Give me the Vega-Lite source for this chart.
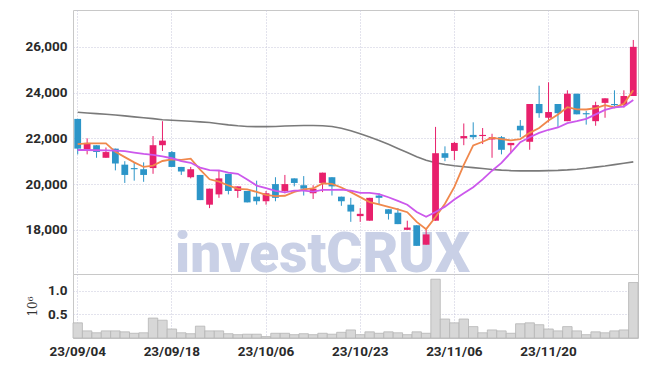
{
  "$schema": "https://vega.github.io/schema/vega-lite/v6.json",
  "padding": {"left": 24, "top": 9, "right": 0, "bottom": 0},
  "background": "white",
  "spacing": 0,
  "bounds": "flush",
  "config": {
    "view": {"stroke": "#c8c8c8"},
    "axis": {"labelFont": "Roboto", "labelFontSize": 13.5, "labelFontWeight": "bold", "labelColor": "#2a2a2a", "gridColor": "#c6c6da", "gridDash": [1, 2], "ticks": false, "domain": false, "labelPadding": 6}
  },
  "data": {"values": [
    {"d":"23/09/04","o":22850,"h":22850,"l":21300,"c":21550,"v":0.32,"ma5":21750,"ma10":21490,"ma60":23140},
    {"d":"23/09/05","o":21500,"h":22000,"l":21300,"c":21800,"v":0.15,"ma5":21780,"ma10":21490,"ma60":23110},
    {"d":"23/09/06","o":21700,"h":21700,"l":21150,"c":21400,"v":0.11,"ma5":21780,"ma10":21480,"ma60":23080},
    {"d":"23/09/07","o":21150,"h":21600,"l":21150,"c":21400,"v":0.15,"ma5":21780,"ma10":21470,"ma60":23050},
    {"d":"23/09/08","o":21550,"h":21550,"l":20600,"c":20900,"v":0.15,"ma5":21410,"ma10":21460,"ma60":23020},
    {"d":"23/09/11","o":20850,"h":21000,"l":20050,"c":20400,"v":0.13,"ma5":21180,"ma10":21440,"ma60":22980},
    {"d":"23/09/12","o":20700,"h":20950,"l":20150,"c":20650,"v":0.10,"ma5":20950,"ma10":21380,"ma60":22940},
    {"d":"23/09/13","o":20650,"h":20950,"l":20100,"c":20400,"v":0.11,"ma5":20750,"ma10":21320,"ma60":22900},
    {"d":"23/09/14","o":20700,"h":22100,"l":20450,"c":21700,"v":0.42,"ma5":20810,"ma10":21280,"ma60":22860},
    {"d":"23/09/15","o":21700,"h":22750,"l":21450,"c":21900,"v":0.375,"ma5":21010,"ma10":21210,"ma60":22810},
    {"d":"23/09/18","o":21400,"h":21450,"l":20750,"c":20750,"v":0.19,"ma5":21080,"ma10":21130,"ma60":22790},
    {"d":"23/09/19","o":20750,"h":20750,"l":20400,"c":20550,"v":0.11,"ma5":21060,"ma10":21005,"ma60":22770},
    {"d":"23/09/20","o":20300,"h":20750,"l":20250,"c":20650,"v":0.09,"ma5":21110,"ma10":20930,"ma60":22750},
    {"d":"23/09/21","o":20400,"h":20400,"l":19300,"c":19300,"v":0.25,"ma5":20630,"ma10":20720,"ma60":22720},
    {"d":"23/09/22","o":19100,"h":19800,"l":18950,"c":19800,"v":0.15,"ma5":20210,"ma10":20610,"ma60":22690},
    {"d":"23/09/25","o":19550,"h":20600,"l":19400,"c":20250,"v":0.15,"ma5":20110,"ma10":20595,"ma60":22640},
    {"d":"23/09/26","o":20450,"h":20450,"l":19550,"c":19700,"v":0.09,"ma5":19940,"ma10":20500,"ma60":22590},
    {"d":"23/09/27","o":19700,"h":19900,"l":19400,"c":19900,"v":0.07,"ma5":19790,"ma10":20450,"ma60":22550},
    {"d":"23/10/04","o":19700,"h":19700,"l":19200,"c":19200,"v":0.08,"ma5":19770,"ma10":20200,"ma60":22520},
    {"d":"23/10/05","o":19450,"h":20150,"l":19100,"c":19250,"v":0.08,"ma5":19660,"ma10":19935,"ma60":22510},
    {"d":"23/10/06","o":19250,"h":19700,"l":19100,"c":19600,"v":0.03,"ma5":19530,"ma10":19820,"ma60":22510},
    {"d":"23/10/10","o":20000,"h":20300,"l":19250,"c":19400,"v":0.10,"ma5":19470,"ma10":19705,"ma60":22520},
    {"d":"23/10/11","o":19700,"h":20400,"l":19600,"c":20000,"v":0.10,"ma5":19490,"ma10":19640,"ma60":22540},
    {"d":"23/10/12","o":20250,"h":20250,"l":19900,"c":20050,"v":0.07,"ma5":19660,"ma10":19715,"ma60":22550},
    {"d":"23/10/13","o":19950,"h":20350,"l":19500,"c":19800,"v":0.09,"ma5":19770,"ma10":19715,"ma60":22560},
    {"d":"23/10/16","o":19600,"h":19950,"l":19350,"c":19800,"v":0.07,"ma5":19810,"ma10":19670,"ma60":22560},
    {"d":"23/10/17","o":20050,"h":20500,"l":19650,"c":20500,"v":0.10,"ma5":20030,"ma10":19750,"ma60":22550},
    {"d":"23/10/18","o":20300,"h":20300,"l":19500,"c":19900,"v":0.08,"ma5":20010,"ma10":19750,"ma60":22520},
    {"d":"23/10/19","o":19450,"h":19450,"l":19050,"c":19250,"v":0.12,"ma5":19850,"ma10":19755,"ma60":22440},
    {"d":"23/10/20","o":19100,"h":19400,"l":18350,"c":18800,"v":0.17,"ma5":19650,"ma10":19710,"ma60":22330},
    {"d":"23/10/23","o":18600,"h":18950,"l":18350,"c":18700,"v":0.07,"ma5":19430,"ma10":19620,"ma60":22200},
    {"d":"23/10/24","o":18400,"h":19400,"l":18400,"c":19400,"v":0.13,"ma5":19210,"ma10":19620,"ma60":22060},
    {"d":"23/10/25","o":19500,"h":19600,"l":19100,"c":19400,"v":0.10,"ma5":19110,"ma10":19560,"ma60":21910},
    {"d":"23/10/26","o":18900,"h":18900,"l":18450,"c":18700,"v":0.13,"ma5":19000,"ma10":19425,"ma60":21740},
    {"d":"23/10/27","o":18750,"h":18950,"l":18250,"c":18250,"v":0.11,"ma5":18890,"ma10":19270,"ma60":21560},
    {"d":"23/10/30","o":18000,"h":18400,"l":18000,"c":18100,"v":0.07,"ma5":18770,"ma10":19100,"ma60":21380},
    {"d":"23/10/31","o":18200,"h":18200,"l":17300,"c":17300,"v":0.13,"ma5":18350,"ma10":18780,"ma60":21200},
    {"d":"23/11/01","o":17350,"h":18050,"l":17350,"c":17800,"v":0.10,"ma5":18030,"ma10":18570,"ma60":21040},
    {"d":"23/11/02","o":18400,"h":22500,"l":18400,"c":21350,"v":1.24,"ma5":18560,"ma10":18780,"ma60":20930},
    {"d":"23/11/03","o":21350,"h":21650,"l":21000,"c":21150,"v":0.40,"ma5":19140,"ma10":19015,"ma60":20860},
    {"d":"23/11/06","o":21450,"h":21850,"l":21050,"c":21800,"v":0.32,"ma5":19880,"ma10":19325,"ma60":20800},
    {"d":"23/11/07","o":22000,"h":22650,"l":21700,"c":22100,"v":0.40,"ma5":20840,"ma10":19595,"ma60":20760},
    {"d":"23/11/08","o":22150,"h":22700,"l":21950,"c":22050,"v":0.24,"ma5":21690,"ma10":19860,"ma60":20720},
    {"d":"23/11/09","o":22100,"h":22450,"l":21750,"c":22150,"v":0.11,"ma5":21850,"ma10":20205,"ma60":20680},
    {"d":"23/11/10","o":21950,"h":22200,"l":21150,"c":22050,"v":0.17,"ma5":22030,"ma10":20585,"ma60":20640},
    {"d":"23/11/13","o":22050,"h":22100,"l":21300,"c":21500,"v":0.15,"ma5":21970,"ma10":20925,"ma60":20610},
    {"d":"23/11/14","o":21700,"h":21800,"l":21350,"c":21800,"v":0.10,"ma5":21910,"ma10":21375,"ma60":20590},
    {"d":"23/11/15","o":22550,"h":22800,"l":22050,"c":22350,"v":0.30,"ma5":21970,"ma10":21830,"ma60":20580},
    {"d":"23/11/16","o":21850,"h":23500,"l":21500,"c":23500,"v":0.32,"ma5":22240,"ma10":22045,"ma60":20580},
    {"d":"23/11/17","o":23500,"h":24300,"l":22900,"c":23100,"v":0.28,"ma5":22450,"ma10":22240,"ma60":20580},
    {"d":"23/11/20","o":22900,"h":24450,"l":22700,"c":23150,"v":0.19,"ma5":22780,"ma10":22375,"ma60":20590},
    {"d":"23/11/21","o":23500,"h":23500,"l":22500,"c":23100,"v":0.15,"ma5":23040,"ma10":22475,"ma60":20600},
    {"d":"23/11/22","o":22750,"h":24100,"l":22750,"c":23950,"v":0.24,"ma5":23360,"ma10":22665,"ma60":20620},
    {"d":"23/11/23","o":23950,"h":23950,"l":23050,"c":23050,"v":0.15,"ma5":23270,"ma10":22755,"ma60":20650},
    {"d":"23/11/24","o":23100,"h":23200,"l":22600,"c":23050,"v":0.07,"ma5":23260,"ma10":22855,"ma60":20690},
    {"d":"23/11/27","o":22750,"h":23600,"l":22550,"c":23450,"v":0.13,"ma5":23320,"ma10":23050,"ma60":20740},
    {"d":"23/11/28","o":23550,"h":23750,"l":22900,"c":23750,"v":0.11,"ma5":23450,"ma10":23245,"ma60":20790},
    {"d":"23/11/29","o":23500,"h":24100,"l":23400,"c":23450,"v":0.15,"ma5":23350,"ma10":23355,"ma60":20850},
    {"d":"23/11/30","o":23450,"h":24100,"l":23350,"c":23850,"v":0.17,"ma5":23510,"ma10":23390,"ma60":20910},
    {"d":"23/12/01","o":23850,"h":26300,"l":23850,"c":26000,"v":1.17,"ma5":24100,"ma10":23680,"ma60":20970}
  ]},
  "vconcat": [
    {
      "width": 565,
      "height": 264,
      "encoding": {
        "x": {"field": "d", "type": "ordinal", "sort": null,
              "scale": {"paddingInner": 0, "paddingOuter": 0,
                        "domain": ["23/09/04","23/09/05","23/09/06","23/09/07","23/09/08","23/09/11","23/09/12","23/09/13","23/09/14","23/09/15","23/09/18","23/09/19","23/09/20","23/09/21","23/09/22","23/09/25","23/09/26","23/09/27","23/10/04","23/10/05","23/10/06","23/10/10","23/10/11","23/10/12","23/10/13","23/10/16","23/10/17","23/10/18","23/10/19","23/10/20","23/10/23","23/10/24","23/10/25","23/10/26","23/10/27","23/10/30","23/10/31","23/11/01","23/11/02","23/11/03","23/11/06","23/11/07","23/11/08","23/11/09","23/11/10","23/11/13","23/11/14","23/11/15","23/11/16","23/11/17","23/11/20","23/11/21","23/11/22","23/11/23","23/11/24","23/11/27","23/11/28","23/11/29","23/11/30","23/12/01"]},
              "axis": {"title": null, "labels": false, "grid": true, "bandPosition": 0.5, "minExtent": 0, "maxExtent": 0, "labelPadding": 0,
                       "values": ["23/09/04","23/09/18","23/10/06","23/10/23","23/11/06","23/11/20"]}}
      },
      "layer": [
        {
          "data": {"values": [{}]},
          "mark": {"type": "text", "text": "investCRUX", "font": "Roboto", "fontWeight": 900, "fontSize": 55, "color": "#c9d0e6", "baseline": "alphabetic", "align": "center"},
          "encoding": {"x": {"datum": "23/10/17"},
                       "y": {"datum": 16150, "type": "quantitative", "scale": {"domain": [16070, 27610], "zero": false, "nice": false},
                             "axis": {"title": null, "format": ",.0f", "values": [18000, 20000, 22000, 24000, 26000], "grid": true}}}
        },
        {
          "mark": {"type": "line", "color": "#7a7a7a", "strokeWidth": 1.6},
          "encoding": {"y": {"field": "ma60", "type": "quantitative"}}
        },
        {
          "mark": {"type": "rule", "strokeWidth": 1},
          "encoding": {
            "y": {"field": "l", "type": "quantitative"},
            "y2": {"field": "h"},
            "color": {"condition": {"test": "datum.c >= datum.o", "value": "#e8206c"}, "value": "#2c95c8"}
          }
        },
        {
          "mark": {"type": "bar", "width": {"band": 0.72}, "minBandSize": 1},
          "encoding": {
            "y": {"field": "o", "type": "quantitative"},
            "y2": {"field": "c"},
            "color": {"condition": {"test": "datum.c >= datum.o", "value": "#e8206c"}, "value": "#2c95c8"}
          }
        },
        {
          "mark": {"type": "line", "color": "#f0884c", "strokeWidth": 1.8},
          "encoding": {"y": {"field": "ma5", "type": "quantitative"}}
        },
        {
          "mark": {"type": "line", "color": "#cc58ec", "strokeWidth": 1.8},
          "encoding": {"y": {"field": "ma10", "type": "quantitative"}}
        }
      ]
    },
    {
      "width": 565,
      "height": 64,
      "mark": {"type": "bar", "width": {"band": 1}, "fill": "#d7d7d7", "stroke": "#b5b5b5", "strokeWidth": 0.8},
      "encoding": {
        "x": {"field": "d", "type": "ordinal", "sort": null, "scale": {"paddingInner": 0, "paddingOuter": 0},
              "axis": {"title": null, "labelAngle": 0, "grid": true, "bandPosition": 0.5,
                       "values": ["23/09/04","23/09/18","23/10/06","23/10/23","23/11/06","23/11/20"]}},
        "y": {"field": "v", "type": "quantitative", "scale": {"domain": [0, 1.35], "nice": false},
              "axis": {"title": "10⁶", "titleFont": "DejaVu Serif", "titleFontWeight": "normal", "titleFontSize": 12, "titleColor": "#333", "titlePadding": 8,
                       "format": ".1f", "values": [0.5, 1.0], "grid": true}}
      }
    }
  ]
}
